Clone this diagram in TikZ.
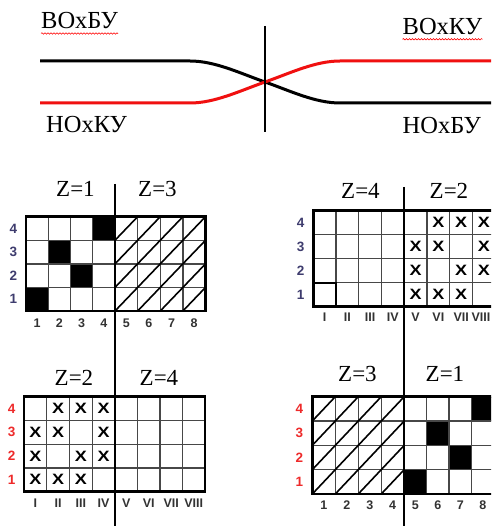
\documentclass[tikz,border=0pt]{standalone}
\usepackage{fontspec}
\setmainfont{Liberation Serif}
\newfontfamily\lsans{Liberation Sans}
\usetikzlibrary{decorations.pathmorphing}
\definecolor{rowblue}{HTML}{3E3C6E}
\definecolor{labgray}{HTML}{333333}
\definecolor{labred}{HTML}{EE2A2A}
\definecolor{gridgray}{HTML}{474747}
\definecolor{curvered}{HTML}{F01010}
\newcommand\GridSetup[5]{%
  \pgfmathsetmacro\gxa{#1}\pgfmathsetmacro\gxd{#2}\pgfmathsetmacro\gxb{#3}%
  \pgfmathsetmacro\gya{#4}\pgfmathsetmacro\gyb{#5}%
  \pgfmathsetmacro\gwl{(\gxd-\gxa)/4}\pgfmathsetmacro\gwr{(\gxb-\gxd)/4}%
  \pgfmathsetmacro\gh{(\gyb-\gya)/4}}
\newcommand\CellXY[2]{%
  \pgfmathsetmacro\cxl{(#1<5) ? (\gxa+(#1-1)*\gwl) : (\gxd+(#1-5)*\gwr)}%
  \pgfmathsetmacro\cxr{(#1<5) ? (\gxa+#1*\gwl) : (\gxd+(#1-4)*\gwr)}%
  \pgfmathsetmacro\cyt{\gya+(4-#2)*\gh}%
  \pgfmathsetmacro\cyb{\gya+(5-#2)*\gh}%
  \pgfmathsetmacro\cxm{(\cxl+\cxr)/2}%
  \pgfmathsetmacro\cym{(\cyt+\cyb)/2}}
\newcommand\GridLines{%
  \foreach \i in {1,2,3}{%
    \draw[gline] ({\gxa+\i*\gwl},\gya) -- ({\gxa+\i*\gwl},\gyb);
    \draw[gline] ({\gxd+\i*\gwr},\gya) -- ({\gxd+\i*\gwr},\gyb);
    \draw[gline] (\gxa,{\gya+\i*\gh}) -- (\gxb,{\gya+\i*\gh});}%
  \draw[gline] (\gxd,\gya) -- (\gxd,\gyb);}
\newcommand\GridBorder{\draw[gborder] (\gxa,\gya) rectangle (\gxb,\gyb);}
\newcommand\Hatch[1]{%
  \foreach \c in {1,...,4}{\foreach \r in {1,...,4}{%
    \pgfmathtruncatemacro\cc{\c+#1}\CellXY{\cc}{\r}%
    \draw[hatch] (\cxl,\cyb) -- (\cxr,\cyt);}}}
\newcommand\Blacks[1]{%
  \foreach \c/\r in {1/1,2/3,3/2,4/4}{%
    \pgfmathtruncatemacro\cc{\c+#1}\CellXY{\cc}{\r}%
    \fill[black] (\cxl,\cyt) rectangle (\cxr,\cyb);}}
\newcommand\Crosses[2]{%
  \foreach \c/\r in {2/4,3/4,4/4,1/3,2/3,4/3,1/2,3/2,4/2,1/1,2/1,3/1}{%
    \pgfmathtruncatemacro\cc{\c+#1}\CellXY{\cc}{\r}%
    \node[xmark] (#2\cc\r) at (\cxm,\cym) {\scalebox{1.2}[1]{X}};}}
\newcommand\RowLabels[3]{%
  \foreach \r in {1,...,4}{\CellXY{1}{\r}%
    \node[rowlab,text=#2] (#3\r) at (#1,\cym) {\r};}}
% #4 = horizontal shift of the last (8th) label
\newcommand\ColLabels[4]{%
  \foreach \t [count=\c] in {#2}{\CellXY{\c}{1}%
    \ifnum\c=8 \pgfmathsetmacro\cxm{\cxm+#4}\fi
    \node[collab] (#3\c) at (\cxm,#1) {\t};}}
\begin{document}
\begin{tikzpicture}[x=1pt,y=-1pt,
  gline/.style={draw=gridgray,line width=1.4pt},
  gborder/.style={draw=black,line width=2.5pt},
  hatch/.style={draw=black,line width=1.6pt},
  divider/.style={draw=black,line width=2pt},
  xmark/.style={inner sep=0pt,font=\lsans\bfseries\fontsize{15}{15}\selectfont},
  rowlab/.style={inner sep=0pt,font=\lsans\bfseries\fontsize{13.5}{14}\selectfont},
  collab/.style={inner sep=0pt,text=labgray,font=\lsans\bfseries\fontsize{12.5}{13}\selectfont},
  zlab/.style={inner sep=0pt,anchor=base west,font=\fontsize{23}{26}\selectfont},
  cyr/.style={inner sep=0pt,anchor=base west,font=\fontsize{24.5}{28}\selectfont},
  wavy/.style={draw=red,line width=0.6pt,decorate,decoration={snake,amplitude=0.7pt,segment length=3pt}},
  curve/.style={line width=3pt}]
\useasboundingbox (0,0) rectangle (491,526);
\fill[white] (0,0) rectangle (491,526);
\clip (0,0) rectangle (491,526);
% ---------- top diagram ----------
\node[cyr] (vobu) at (41,28.5) {ВОхБУ};
\node[cyr] (voku) at (402.5,34.3) {ВОхКУ};
\node[cyr] (noku) at (46,133) {НОхКУ};
\node[cyr] (nobu) at (402.5,133.3) {НОхБУ};
\draw[wavy] ([yshift=-5pt]vobu.base west) -- ([yshift=-5pt]vobu.base east);
\draw[wavy] ([yshift=-5pt]voku.base west) -- ([yshift=-5pt]voku.base east);
\coordinate (cross) at (265,82);
\draw[curve,black] (40,61) -- (190,61) .. controls (215,61) and (240,73.25) .. (cross)
  .. controls (290,90.75) and (315,103) .. (340,103) -- (491,103);
\draw[curve,curvered] (40,103) -- (190,103) .. controls (215,103) and (240,90.75) .. (cross)
  .. controls (290,73.25) and (315,61) .. (340,61) -- (491,61);
\coordinate (vtop) at (265,26);
\coordinate (vbot) at (265,132);
\draw[divider] (vtop) -- (vbot);
% ---------- grid 1 (top left) ----------
\GridSetup{26}{115}{205.5}{216.7}{311}
\Blacks{0}
\GridLines
\Hatch{4}
\GridBorder
\RowLabels{13.3}{rowblue}{ra}
\ColLabels{323}{1,2,3,4,5,6,7,8}{ca}{0}
\node[zlab] (za1) at (56,196.7) {Z=1};
\node[zlab] (za3) at (138,196.7) {Z=3};
% ---------- grid 2 (top right) ----------
\GridSetup{313.3}{404.2}{495.3}{210.7}{306.7}
\GridLines
\Crosses{4}{xb}
\CellXY{1}{1}
\draw[black,line width=1.8pt] (\cxl,\cyt) -- (\cxr,\cyt) -- (\cxr,\cyb);
\GridBorder
\RowLabels{300.7}{rowblue}{rb}
\ColLabels{317}{I,II,III,IV,V,VI,VII,VIII}{cb}{-3}
\node[zlab] (zb4) at (341,198.3) {Z=4};
\node[zlab] (zb2) at (429.5,198.3) {Z=2};
% ---------- grid 3 (bottom left) ----------
\GridSetup{24}{115}{205}{396.7}{491.7}
\GridLines
\Crosses{0}{xc}
\GridBorder
\RowLabels{11.7}{labred}{rc}
\ColLabels{502.7}{I,II,III,IV,V,VI,VII,VIII}{cc}{0}
\node[zlab] (zc2) at (54.5,385) {Z=2};
\node[zlab] (zc4) at (139.5,385) {Z=4};
% ---------- grid 4 (bottom right) ----------
\GridSetup{312.3}{404.2}{494}{396.7}{494}
\Blacks{4}
\GridLines
\Hatch{0}
\GridBorder
\RowLabels{299.3}{labred}{rd}
\ColLabels{505}{1,2,3,4,5,6,7,8}{cd}{0}
\node[zlab] (zd3) at (338,381.7) {Z=3};
\node[zlab] (zd1) at (425.5,381.7) {Z=1};
% ---------- dividers ----------
\coordinate (la) at (115,184);
\coordinate (lb) at (115,526);
\coordinate (ra) at (404.2,187);
\coordinate (rb) at (404.2,526);
\draw[divider] (la) -- (lb);
\draw[divider] (ra) -- (rb);
\end{tikzpicture}
\end{document}
